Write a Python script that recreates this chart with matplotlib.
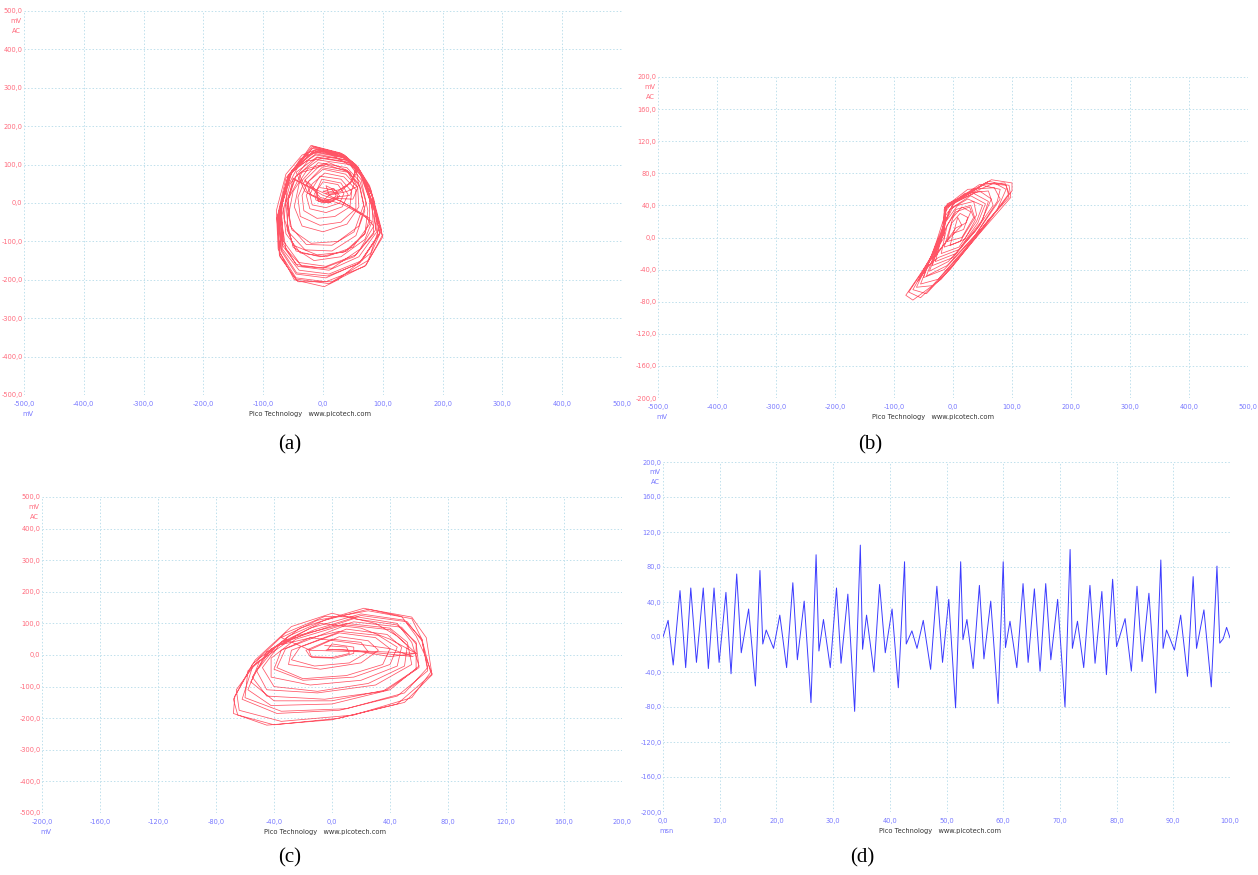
import numpy as np
import matplotlib.pyplot as plt

W, H = 1258, 875

# ---- data ----
# (a) phase portrait, mV vs mV, loops of the trajectory in drawing order
a_loops = [
    [(-5,40),(15,35),(22,20),(15,5),(0,0),(-12,8),(-14,25)],
    [(0,55),(25,48),(35,25),(28,0),(5,-12),(-18,-5),(-22,22),(-15,45)],
    [(-5,70),(30,62),(48,30),(45,-10),(20,-35),(-10,-40),(-32,-20),(-35,20),(-25,55)],
    [(0,88),(38,75),(58,40),(60,-10),(40,-55),(0,-75),(-35,-60),(-48,-10),(-40,50)],
    [(-8,105),(40,92),(62,55),(72,0),(60,-60),(25,-100),(-20,-105),(-52,-70),(-60,-5),(-50,65)],
    [(0,20),(30,5),(60,-25),(82,-48),(70,-95),(30,-140),(-15,-150),(-50,-115),(-60,-50),(-50,30),
     (-25,90),(10,105),(40,85),(52,50),(45,20),(20,15)],
    [(5,5),(-25,25),(-40,75),
     (-10,118),(42,105),(65,70),(78,10),(78,-55),(50,-115),(5,-140),(-38,-130),(-62,-80),(-68,0),(-52,80)],
    [(-12,128),(40,112),(62,80),(85,-5),(88,-70),(55,-135),(5,-165),(-40,-155),(-66,-100),(-70,-15),(-55,75)],
    [(-15,138),(35,120),(60,88),(82,20),(95,-80),(65,-150),(10,-185),(-40,-175),(-68,-120),(-72,-30),(-58,70)],
    [(-18,148),(32,128),(58,95),(78,40),(100,-88),(70,-165),(5,-205),(-45,-195),(-72,-130),(-75,-35),(-60,60)],
    [(-20,150),(30,130),(55,100),(70,60),(95,-60),(80,-130),(25,-200),(2,-218),(-48,-200),(-75,-120),
     (-78,-20),(-62,75),(-35,125),(-10,140),(30,122),(55,95),(50,60),(30,30),(10,22)],
    [(5,45),(22,32),(25,12),(10,0),(-8,5),(-12,28)],
    [(-2,62),(30,52),(42,22),(32,-10),(5,-25),(-22,-15),(-28,20),(-18,50)],
    [(3,78),(35,68),(55,35),(55,-15),(30,-50),(-5,-58),(-38,-35),(-42,15),(-30,60)],
    [(-5,15),(35,-5),(70,-35),(85,-60),(62,-120),(15,-170),(-35,-165),(-62,-120),(-70,-40),(-55,50),
     (-25,110),(20,120),(55,90),(60,45),(40,30),(10,20)],
    [(0,5),(-20,20),(-30,60),
     (-5,98),(40,85),(60,50),(68,-5),(52,-75),(15,-110),(-28,-108),(-55,-60),(-58,10),(-45,70)],
    [(-8,112),(45,100),(64,60),(75,-20),(70,-80),(35,-128),(-10,-135),(-50,-110),(-65,-40),(-60,40),(-42,95)],
    [(-12,125),(42,110),(62,75),(80,0),(90,-75),(60,-140),(10,-175),(-42,-165),(-68,-110),(-72,-20),(-55,78)],
    [(-15,135),(38,118),(60,85),(85,10),(92,-85),(62,-155),(5,-195),(-45,-185),(-70,-125),(-74,-25),(-58,72)],
    [(-18,143),(30,126),(58,92),(80,35),(98,-70),(75,-150),(15,-205),(-42,-205),(-72,-140),(-77,-40),
     (-62,65),(-32,122),(0,135),(40,115),(58,85),(48,55),(28,35),(8,28)],
    [(0,30),(18,38),(28,18),(12,2),(-8,8),(-10,30)],
    [(-25,55),(-2,92),(42,80),(62,42),(70,-20),(55,-85),(15,-125),(-30,-122),(-58,-75),(-62,0),(-48,60)],
    [(10,20),(45,-8),(78,-40),(70,-80),(40,-125),(-5,-140),(-45,-125),(-60,-70),(-58,10),(-35,80),
     (5,100),(45,80),(58,40),(50,10),(20,12)],
    [(0,5),(-30,30),(-45,80),
     (-10,120),(44,106),(66,68),(82,-10),(85,-80),(52,-140),(0,-170),(-45,-160),(-67,-105),(-70,-10),(-52,85)],
    [(-14,132),(40,116),(62,82),(88,-30),(95,-78),(60,-158),(8,-190),(-44,-182),(-70,-120),(-74,-30),(-58,68)],
    [(-16,145),(36,125),(58,94),(78,45),(99,-85),(72,-162),(10,-210),(-46,-198),(-73,-135),(-76,-35),
     (-60,62),(-38,115),(-5,138),(38,120),(56,88),(45,50),(22,28),(5,25)],
]

# (b) phase portrait
b_loops = [
    [(0,5),(18,10),(25,25),(12,30),(-2,18)],
    [(-10,-5),(15,0),(35,25),(28,38),(5,32),(-10,15)],
    [(-20,-20),(10,-12),(40,20),(50,40),(25,48),(-5,35),(-18,10)],
    [(-35,-35),(0,-25),(45,15),(65,48),(45,58),(5,45),(-15,25),(-28,-5)],
    [(-50,-50),(-15,-40),(35,0),(75,45),(80,60),(50,65),(-12,38),(-15,10),(-35,-20)],
    [(-62,-62),(-35,-60),(15,-20),(70,30),(95,55),(88,68),(45,66),(-14,37),(-16,5),(-45,-35)],
    [(-75,-68),(-55,-75),(-5,-40),(55,15),(100,58),(100,68),(65,72),(-15,35),(-15,0),(-55,-45)],
    [(-80,-72),(-68,-78),(-20,-52),(45,5),(98,50),(95,65),(60,70),(0,45),(-15,30),(-20,-5),(-60,-55)],
    [(5,12),(22,18),(30,32),(15,38),(0,25)],
    [(-15,-12),(12,-5),(40,28),(35,45),(8,40),(-12,20)],
    [(-30,-30),(5,-20),(50,22),(60,45),(35,55),(0,42),(-15,18),(-25,-8)],
    [(-45,-48),(-10,-35),(40,5),(80,48),(70,62),(25,60),(-14,38),(-14,8),(-30,-15)],
    [(-68,-65),(-45,-70),(5,-30),(60,22),(95,50),(90,65),(55,68),(-12,38),(-15,5),(-50,-40)],
    [(-25,-25),(10,-15),(42,18),(55,42),(30,52),(0,38),(-18,12)],
    [(-55,-58),(-25,-52),(25,-10),(75,35),(90,60),(70,68),(-10,42),(-16,12),(-40,-30),(-5,0),(15,15),(8,25)],
    [(-5,-10),(20,-2),(38,22),(30,40),(5,35),(-12,12)],
    [(-40,-42),(-8,-30),(38,8),(68,40),(60,58),(20,55),(-14,36),(-15,6)],
]

# (c) phase portrait
c_loops = [
    [(-5,30),(10,25),(12,5),(0,-8),(-15,-5),(-18,15)],
    [(0,50),(20,40),(25,10),(12,-25),(-12,-35),(-28,-15),(-22,25)],
    [(5,70),(30,55),(40,20),(35,-30),(10,-65),(-20,-75),(-38,-40),(-32,20)],
    [(10,95),(40,80),(52,30),(50,-35),(25,-90),(-10,-115),(-40,-100),(-48,-40),(-35,40)],
    [(15,115),(45,95),(58,40),(60,-40),(38,-110),(0,-145),(-40,-145),(-56,-85),(-45,10),(-15,85)],
    [(20,130),(50,110),(62,50),(66,-50),(45,-130),(5,-175),(-38,-185),(-62,-140),(-55,-40),(-30,60),(-5,110)],
    [(25,145),(55,120),(65,55),(69,-63),(50,-150),(5,-200),(-40,-221),(-65,-190),(-68,-140),(-53,-16),
     (-28,90),(0,132)],
    [(30,100),(45,60),(58,5),(35,10),(10,15),(-3,18)],
    [(0,35),(15,25),(15,5),(2,-10),(-14,-8),(-16,15)],
    [(5,58),(25,45),(32,15),(20,-25),(-8,-45),(-30,-30),(-28,15)],
    [(10,82),(38,65),(48,25),(45,-35),(20,-80),(-15,-95),(-42,-70),(-42,-10),(-25,50)],
    [(15,105),(48,88),(58,35),(58,-45),(35,-115),(-5,-140),(-45,-130),(-55,-70),(-42,20),(-12,80)],
    [(20,125),(52,105),(62,45),(66,-40),(50,-120),(10,-170),(-35,-178),(-60,-135),(-58,-50),(-35,40),(-8,100)],
    [(20,85),(40,50),(58,5),(40,-5),(20,10),(-15,15),(-35,55),(-10,110)],
    [(25,140),(55,115),(62,50),(68,-55),(55,-135),(15,-190),(-35,-210),(-64,-175),(-66,-110),(-50,-10),
     (-22,85),(5,125)],
    [(22,148),(48,122),(58,60),(65,-10),(69,-60),(45,-155),(0,-205),(-45,-222),(-68,-185),(-67,-130),
     (-55,-30),(-32,70),(-5,122)],
    [(18,120),(45,100),(55,40),(60,-35),(40,-110),(0,-155),(-42,-160),(-58,-110),(-50,-20),(-25,60)],
    [(10,100),(40,85),(52,40),(55,-30),(30,-95),(-10,-120),(-45,-110),(-52,-50),(-38,30)],
    [(5,75),(32,62),(45,25),(40,-30),(15,-70),(-20,-80),(-40,-45),(-35,15),(-15,55)],
    [(10,40),(40,20),(56,-5),(35,5),(5,18),(-4,16)],
]

# (d) time series: ms, mV (peaks and troughs)
d_t = [0.0, 0.9, 1.8, 3.0, 4.0, 4.9, 5.9, 7.1, 8.0, 9.0, 9.9, 11.1, 12.0, 13.0, 13.8,
       15.1, 16.3, 17.1, 17.6, 18.2, 19.5, 20.6, 21.8, 22.9, 23.7, 24.9, 26.1, 27.0,
       27.5, 28.3, 29.5, 30.6, 31.4, 32.6, 33.8, 34.8, 35.2, 35.9, 37.2, 38.2, 39.2,
       40.4, 41.5, 42.6, 42.9, 43.9, 44.8, 45.9, 47.2, 48.3, 49.3, 50.4, 51.6, 52.5,
       52.9, 53.6, 54.7, 55.8, 56.6, 57.8, 59.1, 60.0, 60.4, 61.2, 62.4, 63.5, 64.4,
       65.5, 66.5, 67.5, 68.4, 69.6, 70.9, 71.8, 72.2, 73.1, 74.2, 75.3, 76.2, 77.4,
       78.2, 79.3, 80.0, 81.5, 82.6, 83.6, 84.5, 85.7, 86.9, 87.8, 88.2, 88.8, 89.3,
       90.2, 91.3, 92.5, 93.5, 94.1, 95.4, 96.7, 97.7, 98.2, 98.8, 99.4, 100.0]
d_v = [0, 19, -32, 53, -35, 56, -29, 56, -36, 56, -29, 51, -42, 72, -18,
       32, -56, 76, -8, 8, -13, 25, -35, 62, -26, 41, -75, 94,
       -16, 20, -35, 56, -30, 49, -85, 105, -14, 25, -40, 60, -18,
       32, -58, 86, -8, 7, -13, 19, -37, 58, -29, 43, -81, 86,
       -3, 20, -36, 59, -25, 41, -76, 86, -12, 18, -35, 61, -29,
       55, -39, 61, -26, 43, -80, 100, -13, 18, -35, 59, -30, 52,
       -43, 66, -11, 21, -39, 58, -28, 50, -64, 88, -13, 8, 0,
       -15, 25, -45, 69, -13, 31, -57, 81, -7, -2, 11, -1]

RED = '#ff2a40'
BLUE = '#3b3bff'
RED_TXT = '#ff6a7c'
BLUE_TXT = '#7878ff'
GRID = '#bfe0ec'

fig = plt.figure(figsize=(W / 100, H / 100), dpi=100)


def fmt(v):
    return f"{v:.1f}".replace('.', ',')


def make_axes(px, xlim, ylim, xstep, ystep, ycol, xunit, pico_x):
    l, r, t, b = px
    ax = fig.add_axes([l / W, 1 - b / H, (r - l) / W, (b - t) / H])
    ax.set_xlim(*xlim)
    ax.set_ylim(*ylim)
    xt = np.arange(xlim[0], xlim[1] + xstep / 2, xstep)
    yt = np.arange(ylim[0], ylim[1] + ystep / 2, ystep)
    ax.set_xticks(xt)
    ax.set_yticks(yt)
    ax.set_xticklabels([fmt(v) for v in xt], fontsize=4.8, color=BLUE_TXT)
    ax.set_yticklabels([fmt(v) for v in yt], fontsize=4.8, color=ycol)
    ax.tick_params(axis='x', length=0, pad=4)
    ax.tick_params(axis='y', length=0, pad=1)
    ax.grid(True, color=GRID, linestyle=(0, (1.5, 2)), linewidth=0.7)
    for s in ax.spines.values():
        s.set_visible(False)
    ax.set_axisbelow(True)
    # unit texts
    fig.text((l - 8) / W, 1 - (t + 10) / H, 'mV', fontsize=4.8, color=ycol, ha='center', va='center')
    fig.text((l - 8) / W, 1 - (t + 20) / H, 'AC', fontsize=4.8, color=ycol, ha='center', va='center')
    fig.text((l + 4) / W, 1 - (b + 19) / H, xunit, fontsize=4.8, color=BLUE_TXT, ha='center', va='center')
    fig.text(pico_x / W, 1 - (b + 19) / H, 'Pico Technology   www.picotech.com',
             fontsize=4.8, color='#333333', ha='center', va='center')
    return ax


def draw_loops(ax, loops):
    pts = np.array([p for loop in loops for p in loop])
    ax.plot(pts[:, 0], pts[:, 1], color=RED, lw=0.55, alpha=0.8)


ax_a = make_axes((24, 622, 11, 395), (-500, 500), (-500, 500), 100, 100, RED_TXT, 'mV', 310)
draw_loops(ax_a, a_loops)

ax_b = make_axes((658, 1248, 77, 398), (-500, 500), (-200, 200), 100, 40, RED_TXT, 'mV', 933)
draw_loops(ax_b, b_loops)

ax_c = make_axes((42, 622, 497, 813), (-200, 200), (-500, 500), 40, 100, RED_TXT, 'mV', 325)
draw_loops(ax_c, c_loops)

ax_d = make_axes((663, 1230, 462, 812), (0, 100), (-200, 200), 10, 40, BLUE_TXT, 'msn', 940)
ax_d.plot(d_t, d_v, color=BLUE, lw=0.7)

for lab, x, y in [('(a)', 290, 445), ('(b)', 870, 445), ('(c)', 290, 858), ('(d)', 862, 858)]:
    fig.text(x / W, 1 - y / H, lab, fontsize=15, family='Liberation Serif', ha='center', va='center')

fig.savefig('out.png', dpi=100)
